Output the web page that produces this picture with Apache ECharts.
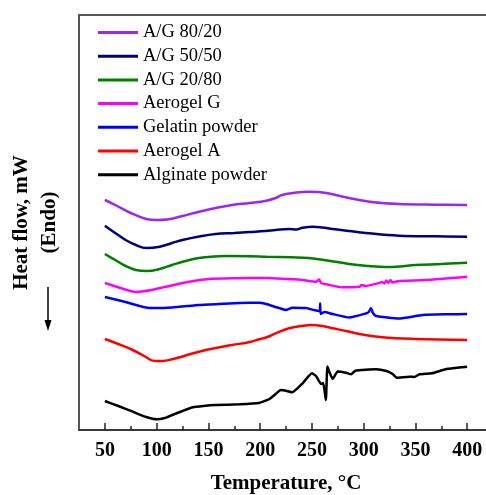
<!DOCTYPE html>
<html>
<head>
<meta charset="utf-8">
<script src="https://cdn.jsdelivr.net/npm/echarts@6/dist/echarts.min.js"></script>
<style>html,body{margin:0;padding:0;background:#fff}#c{width:486px;height:495px}</style>
</head>
<body>
<div id="c"></div>
<script>
// Data: [temperature °C, heat flow (arbitrary, offset stacked)]
const seriesNames = ['A/G 80/20','A/G 50/50','A/G 20/80','Aerogel G','Gelatin powder','Aerogel A','Alginate powder'];
const seriesColors = ['#9B27F2','#00007F','#007F00','#FF00FF','#0000FF','#FF0000','#000000'];
const seriesSmooth = [0.4, 0.4, 0.4, 0.2, 0.15, 0.4, 0.15];
const ag8020 = [[50,230],[60,225],[75,217],[90,211],[100,210],[110,210.5],[125,214],[141,218.3],[157,222],[173,225],[190,227],[206,229.3],[215,232],[221,235],[235,237.5],[247,238.3],[256,238],[264,237],[286,232],[308,228],[334,226],[370,225.3],[400,225]];
const ag5050 = [[50,204.3],[60,197],[70,190],[80,185],[90,182],[103,183.3],[115,187],[125,190],[141,193.5],[157,196],[175,197],[190,198],[205,199],[215,200],[228,201],[235,200.5],[241,202.3],[251,203.3],[260,202.5],[270,201],[286,199],[302,197],[334,194.3],[370,193.7],[400,193.3]];
const ag2080 = [[50,176],[60,170],[70,164],[80,160],[91,159],[103,161],[115,165],[128,169],[141,172],[155,173.5],[167,174],[190,173.8],[206,173.3],[230,172.7],[247,172],[265,169.5],[286,166],[305,164],[321,163],[335,163.5],[350,165],[375,166],[400,167.3]];
const aerogelG = [[50,147],[65,142],[80,138],[95,140],[109,143.3],[130,148],[151,151],[175,151.7],[206,152],[225,151],[241,150],[254,148.3],[257,150.5],[259,147],[265,145.5],[279,142.7],[296,143.3],[298,145],[302,144],[315,147],[318,148],[320,146.5],[322,149.5],[324,147],[326,150],[328,147.5],[334,149],[360,150],[400,153.3]];
const gelatinPowder = [[50,133],[70,128],[93,122],[115,122.5],[141,125],[160,126],[180,127],[199,127.3],[206,126],[215,123],[225,120],[231,122.3],[244,122],[252,120],[257.5,119],[258,126.5],[258.5,116],[262,118],[270,116],[286,112.5],[302,116.5],[305,118],[307,122],[309,117],[312,114],[334,111.5],[357,115],[380,115.7],[400,116]];
const aerogelA = [[50,91],[63,86],[77,80],[88,74],[98,69],[106,69],[115,70.7],[128,74.5],[141,78.3],[157,82],[173,85],[190,88],[199,90.7],[207,93],[215,96.7],[228,101.7],[240,104],[250,105],[260,104],[270,101.7],[283,99],[296,96],[318,92.7],[350,91],[400,90]];
const alginatePowder = [[50,29],[63,24],[77,18.3],[90,13],[100,10.7],[108,12],[115,15],[125,19],[135,22.7],[145,24],[157,25],[180,25.7],[199,27],[209,31],[215,36],[220,40],[226,39],[231,37.7],[241,46.7],[250,56.7],[254,54],[259,46],[261,47],[263.5,30],[265,63.5],[267,58],[270,51],[275,58.5],[283,57.3],[288,55.7],[292,59.3],[312,60.7],[322,59],[328,56],[332,52.3],[344,53.3],[349,53],[354,55.7],[366,56.7],[380,61],[400,63.3]];
const majorTicks = [50,100,150,200,250,300,350,400];
const minorTicks = [75,125,175,225,275,325,375];
const xName = 'Temperature, °C';
const yName = 'Heat flow, mW\n(Endo)';

const allData = [ag8020, ag5050, ag2080, aerogelG, gelatinPowder, aerogelA, alginatePowder];
const serif = '"Liberation Serif", "Times New Roman", serif';
const chart = echarts.init(document.getElementById('c'), null, {renderer:'canvas'});
chart.setOption({
  animation: false,
  backgroundColor: '#fff',
  grid: {left: 79, top: 15, bottom: 65, right: -7, containLabel: false, outerBoundsMode: 'none'},
  legend: {
    orient: 'vertical', left: 93, top: 18, itemWidth: 40, itemHeight: 3, itemGap: 4.7,
    icon: 'rect',
    textStyle: {fontFamily: serif, fontSize: 18.5, color: '#000'},
    data: seriesNames
  },
  xAxis: [
    {
      type: 'value', min: 25, max: 425, position: 'bottom',
      name: xName, nameLocation: 'middle', nameGap: 43,
      nameTextStyle: {fontFamily: serif, fontWeight: 'bold', fontSize: 21, color: '#000'},
      axisLine: {show: true, lineStyle: {color: '#3a3a3a', width: 2}},
      axisTick: {show: true, inside: true, length: 7, customValues: majorTicks, lineStyle: {color: '#222', width: 1.5}},
      axisLabel: {show: true, customValues: majorTicks, margin: 11, fontFamily: serif, fontWeight: 'bold', fontSize: 20, color: '#000'},
      splitLine: {show: false}
    },
    {
      type: 'value', min: 25, max: 425, position: 'bottom',
      axisLine: {show: false},
      axisTick: {show: true, inside: true, length: 4, customValues: minorTicks, lineStyle: {color: '#222', width: 1.5}},
      axisLabel: {show: false},
      splitLine: {show: false}
    },
    {
      type: 'value', min: 25, max: 425, position: 'top',
      axisLine: {show: true, lineStyle: {color: '#555', width: 2}},
      axisTick: {show: false}, axisLabel: {show: false}, splitLine: {show: false}
    }
  ],
  yAxis: {
    type: 'value', min: 0, max: 415,
    name: yName, nameLocation: 'middle', nameRotate: 90, nameGap: 15,
    nameTextStyle: {fontFamily: serif, fontWeight: 'bold', fontSize: 21, color: '#000', lineHeight: 28},
    axisLine: {show: true, lineStyle: {color: '#555', width: 2}},
    axisTick: {show: false}, axisLabel: {show: false}, splitLine: {show: false}
  },
  graphic: [
    {type: 'line', shape: {x1: 48, y1: 287, x2: 48, y2: 323}, style: {stroke: '#000', lineWidth: 1.5}},
    {type: 'polygon', shape: {points: [[44.5, 320], [51.5, 320], [48, 331]]}, style: {fill: '#000'}}
  ],
  series: allData.map((d, i) => ({
    name: seriesNames[i], type: 'line', data: d, xAxisIndex: 0,
    smooth: seriesSmooth[i], showSymbol: false, symbol: 'none',
    lineStyle: {color: seriesColors[i], width: 2.5},
    itemStyle: {color: seriesColors[i]}
  }))
});
</script>
</body>
</html>
